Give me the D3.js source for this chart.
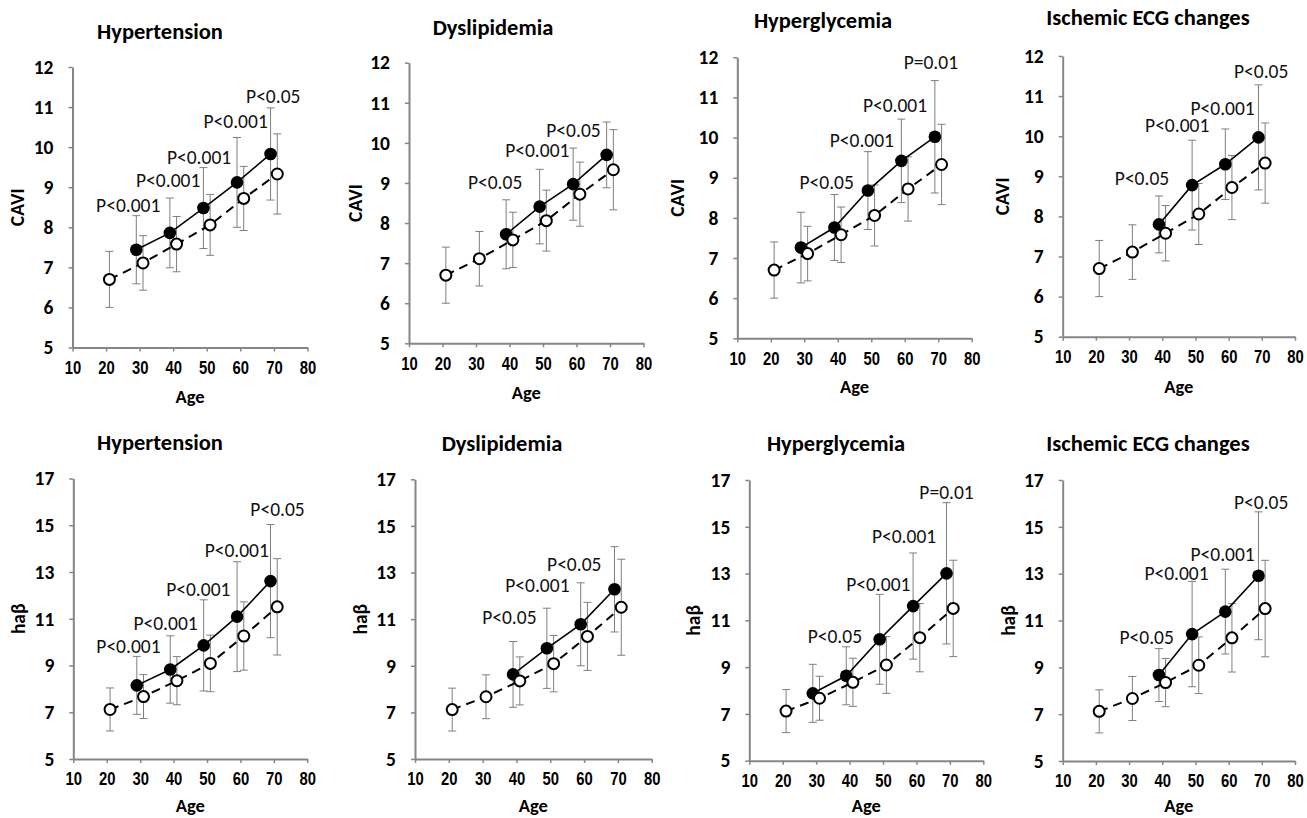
<!DOCTYPE html>
<html><head><meta charset="utf-8">
<script src="https://cdn.jsdelivr.net/npm/d3@7"></script>
<style>body{margin:0;background:#fff} svg{display:block}</style>
</head><body><svg id="chart" width="1307" height="818"></svg>
<script>
// ---------------- DATA ----------------
const xTicks = [10, 20, 30, 40, 50, 60, 70, 80];
const caviTicks = [5, 6, 7, 8, 9, 10, 11, 12];
const habTicks = [5, 7, 9, 11, 13, 15, 17];
const titles = ["Hypertension", "Dyslipidemia", "Hyperglycemia", "Ischemic ECG changes"];

// reference group (open circles, dashed line)
const refAges = [21, 31, 41, 51, 61, 71];
const refCAVI = [6.70, 7.11, 7.58, 8.06, 8.72, 9.33];
const refCAVIsd = [0.70, 0.68, 0.69, 0.76, 0.80, 1.00];
const refHab = [7.12, 7.67, 8.35, 9.09, 10.26, 11.51];
const refHabSd = [0.92, 0.94, 1.03, 1.21, 1.46, 2.06];

// risk groups (filled circles, solid line)
const ages5 = [29, 39, 49, 59, 69];
const ages4 = [39, 49, 59, 69];

const htnCAVI = [7.44, 7.86, 8.48, 9.12, 9.83];
const htnCAVIsd = [0.85, 0.87, 1.01, 1.12, 1.15];
const dysCAVI = [7.72, 8.41, 8.97, 9.70];
const dysCAVIsd = [0.86, 0.93, 0.90, 0.82];
const hgCAVI = [7.26, 7.76, 8.68, 9.42, 10.02];
const hgCAVIsd = [0.88, 0.82, 0.97, 1.04, 1.40];
const ecgCAVI = [7.80, 8.78, 9.30, 9.97];
const ecgCAVIsd = [0.71, 1.12, 0.88, 1.31];

const htnHab = [8.15, 8.83, 9.86, 11.09, 12.61];
const htnHabSd = [1.24, 1.44, 1.95, 2.35, 2.42];
const dysHab = [8.63, 9.75, 10.78, 12.28];
const dysHabSd = [1.41, 1.72, 1.78, 1.83];
const hgHab = [7.88, 8.63, 10.19, 11.61, 13.01];
const hgHabSd = [1.24, 1.24, 1.92, 2.27, 3.02];
const ecgHab = [8.67, 10.42, 11.38, 12.91];
const ecgHabSd = [1.13, 2.25, 1.81, 2.73];

// P-value annotations (text, anchor age, anchor value)
const htnCAVIp = ["P<0.001", "P<0.001", "P<0.001", "P<0.001", "P<0.05"];
const htnCAVIpx = [26.6, 38.5, 47.7, 58.6, 69.8];
const htnCAVIpy = [8.55, 9.18, 9.76, 10.66, 11.28];
const dysCAVIp = ["P<0.05", "P<0.001", "P<0.05"];
const dysCAVIpx = [35.7, 48.3, 59.1];
const dysCAVIpy = [9.01, 9.81, 10.32];
const hgCAVIp = ["P<0.05", "P<0.001", "P<0.001", "P=0.01"];
const hgCAVIpx = [36.7, 47.2, 57.1, 67.8];
const hgCAVIpy = [8.88, 9.94, 10.81, 11.88];
const ecgCAVIp = ["P<0.05", "P<0.001", "P<0.001", "P<0.05"];
const ecgCAVIpx = [33.9, 44.5, 58.2, 69.8];
const ecgCAVIpy = [8.95, 10.28, 10.69, 11.63];

const htnHabp = ["P<0.001", "P<0.001", "P<0.001", "P<0.001", "P<0.05"];
const htnHabpx = [26.5, 37.6, 47.4, 58.9, 71.1];
const htnHabpy = [9.83, 10.80, 12.27, 13.94, 15.69];
const dysHabp = ["P<0.05", "P<0.001", "P<0.05"];
const dysHabpx = [37.9, 46.2, 57.1];
const dysHabpy = [11.08, 12.44, 13.37];
const hgHabp = ["P<0.05", "P<0.001", "P<0.001", "P=0.01"];
const hgHabpx = [35.6, 48.6, 56.3, 69.0];
const hgHabpy = [10.33, 12.55, 14.61, 16.47];
const ecgHabp = ["P<0.05", "P<0.001", "P<0.001", "P<0.05"];
const ecgHabpx = [35.3, 44.3, 58.2, 69.8];
const ecgHabpy = [10.27, 13.04, 13.84, 16.07];

// ---------------- PANEL DEFINITIONS ----------------
const panels = [
  {title: titles[0], ylab: "CAVI", yDomain: [5, 12], yTicks: caviTicks, ref: refCAVI, refSd: refCAVIsd, ages: ages5, vals: htnCAVI, sd: htnCAVIsd, p: htnCAVIp, px: htnCAVIpx, py: htnCAVIpy},
  {title: titles[1], ylab: "CAVI", yDomain: [5, 12], yTicks: caviTicks, ref: refCAVI, refSd: refCAVIsd, ages: ages4, vals: dysCAVI, sd: dysCAVIsd, p: dysCAVIp, px: dysCAVIpx, py: dysCAVIpy},
  {title: titles[2], ylab: "CAVI", yDomain: [5, 12], yTicks: caviTicks, ref: refCAVI, refSd: refCAVIsd, ages: ages5, vals: hgCAVI, sd: hgCAVIsd, p: hgCAVIp, px: hgCAVIpx, py: hgCAVIpy},
  {title: titles[3], ylab: "CAVI", yDomain: [5, 12], yTicks: caviTicks, ref: refCAVI, refSd: refCAVIsd, ages: ages4, vals: ecgCAVI, sd: ecgCAVIsd, p: ecgCAVIp, px: ecgCAVIpx, py: ecgCAVIpy},
  {title: titles[0], ylab: "haβ", yDomain: [5, 17], yTicks: habTicks, ref: refHab, refSd: refHabSd, ages: ages5, vals: htnHab, sd: htnHabSd, p: htnHabp, px: htnHabpx, py: htnHabpy},
  {title: titles[1], ylab: "haβ", yDomain: [5, 17], yTicks: habTicks, ref: refHab, refSd: refHabSd, ages: ages4, vals: dysHab, sd: dysHabSd, p: dysHabp, px: dysHabpx, py: dysHabpy},
  {title: titles[2], ylab: "haβ", yDomain: [5, 17], yTicks: habTicks, ref: refHab, refSd: refHabSd, ages: ages5, vals: hgHab, sd: hgHabSd, p: hgHabp, px: hgHabpx, py: hgHabpy},
  {title: titles[3], ylab: "haβ", yDomain: [5, 17], yTicks: habTicks, ref: refHab, refSd: refHabSd, ages: ages4, vals: ecgHab, sd: ecgHabSd, p: ecgHabp, px: ecgHabpx, py: ecgHabpy}
];

// layout (pixel frame of each plot area)
const layout = [
  {x0: 72.5, x1: 307.5, yTop: 67, yBot: 347.5, tX: 160, tY: 31, lX: 17, aY: 397},
  {x0: 409, x1: 643.5, yTop: 62.7, yBot: 343.3, tX: 493, tY: 27, lX: 355, aY: 393},
  {x0: 737.3, x1: 971.7, yTop: 57.3, yBot: 338.3, tX: 823, tY: 20, lX: 677, aY: 387},
  {x0: 1062.7, x1: 1295, yTop: 56, yBot: 336.7, tX: 1148, tY: 17, lX: 1002, aY: 387},
  {x0: 73.3, x1: 307.3, yTop: 478.5, yBot: 759, tX: 160, tY: 442, lX: 18, aY: 806},
  {x0: 415, x1: 651.7, yTop: 479.3, yBot: 759, tX: 502, tY: 443, lX: 360, aY: 806},
  {x0: 749.3, x1: 983.3, yTop: 480, yBot: 760.7, tX: 836, tY: 443, lX: 693, aY: 806},
  {x0: 1062.7, x1: 1295, yTop: 480, yBot: 761, tX: 1148, tY: 443, lX: 1008, aY: 806}
];

const CAL = "Carlito, Calibri, Lato, sans-serif";
const AXIS_COL = "#868686";
const ERR_COL = "#7f7f7f";

const svg = d3.select("#chart");

function drawPanel(p, L) {
  const x = d3.scaleLinear().domain([10, 80]).range([L.x0, L.x1]);
  const y = d3.scaleLinear().domain(p.yDomain).range([L.yBot, L.yTop]);
  const g = svg.append("g");

  // axes
  const gx = g.append("g").attr("transform", `translate(0,${L.yBot})`)
    .call(d3.axisBottom(x).tickValues(xTicks).tickFormat(d3.format("d"))
      .tickSize(4).tickSizeOuter(0).tickPadding(9));
  gx.selectAll("text")
    .attr("font-family", "'Liberation Sans', Arial, sans-serif")
    .attr("font-weight", "bold").attr("font-size", 19).attr("fill", "#000")
    .attr("textLength", 16.5).attr("lengthAdjust", "spacingAndGlyphs");
  const gy = g.append("g").attr("transform", `translate(${L.x0},0)`)
    .call(d3.axisLeft(y).tickValues(p.yTicks).tickFormat(d3.format("d"))
      .tickSize(4).tickSizeOuter(0).tickPadding(15));
  gy.selectAll("text")
    .attr("font-family", CAL).attr("font-weight", "bold").attr("font-size", 19.5).attr("fill", "#000");
  [gx, gy].forEach(a => {
    a.select(".domain").attr("stroke", AXIS_COL).attr("stroke-width", 2);
    a.selectAll(".tick line").attr("stroke", AXIS_COL).attr("stroke-width", 1.5);
  });

  // title and axis labels
  g.append("text").attr("x", L.tX).attr("y", L.tY).attr("dy", "0.35em")
    .attr("text-anchor", "middle").attr("font-family", CAL).attr("font-weight", "bold")
    .attr("font-size", 22.5).text(p.title);
  g.append("text").attr("transform", `translate(${L.lX},${(L.yTop + L.yBot) / 2}) rotate(-90)`)
    .attr("dy", "0.35em").attr("text-anchor", "middle").attr("font-family", CAL)
    .attr("font-weight", "bold").attr("font-size", 19.5).text(p.ylab);
  g.append("text").attr("x", (L.x0 + L.x1) / 2).attr("y", L.aY).attr("dy", "0.35em")
    .attr("text-anchor", "middle").attr("font-family", CAL).attr("font-weight", "bold")
    .attr("font-size", 18.5).text("Age");

  const refData = refAges.map((a, i) => ({a, v: p.ref[i], s: p.refSd[i]}));
  const grpData = p.ages.map((a, i) => ({a, v: p.vals[i], s: p.sd[i]}));

  // error bars
  function errorBars(data) {
    const e = g.append("g").attr("stroke", ERR_COL).attr("stroke-width", 1).attr("fill", "none");
    data.forEach(d => {
      const cx = x(d.a), t = y(d.v + d.s), b = y(d.v - d.s);
      e.append("line").attr("x1", cx).attr("x2", cx).attr("y1", t).attr("y2", b);
      e.append("line").attr("x1", cx - 4).attr("x2", cx + 4).attr("y1", t).attr("y2", t);
      e.append("line").attr("x1", cx - 4).attr("x2", cx + 4).attr("y1", b).attr("y2", b);
    });
  }
  errorBars(grpData);
  errorBars(refData);

  const line = d3.line().x(d => x(d.a)).y(d => y(d.v));
  g.append("path").datum(grpData).attr("d", line).attr("fill", "none")
    .attr("stroke", "#000").attr("stroke-width", 1.6);
  g.append("path").datum(refData).attr("d", line).attr("fill", "none")
    .attr("stroke", "#000").attr("stroke-width", 2).attr("stroke-dasharray", "9,6");

  g.selectAll(".fc").data(grpData).enter().append("circle")
    .attr("cx", d => x(d.a)).attr("cy", d => y(d.v)).attr("r", 6.3).attr("fill", "#000");
  g.selectAll(".oc").data(refData).enter().append("circle")
    .attr("cx", d => x(d.a)).attr("cy", d => y(d.v)).attr("r", 5.5)
    .attr("fill", "#fff").attr("stroke", "#000").attr("stroke-width", 2);

  // p-value labels
  p.p.forEach((t, i) => {
    g.append("text").attr("x", x(p.px[i])).attr("y", y(p.py[i])).attr("dy", "0.35em")
      .attr("text-anchor", "middle").attr("font-family", CAL).attr("font-size", 19.5)
      .attr("fill", "#111").text(t);
  });
}

panels.forEach((p, i) => drawPanel(p, layout[i]));
</script></body></html>
